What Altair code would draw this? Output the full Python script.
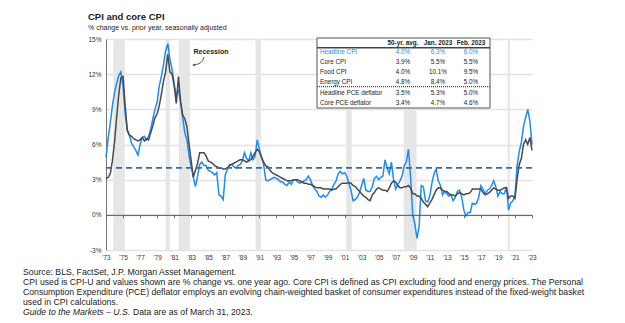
import altair as alt
import pandas as pd

# ---------------- data ----------------
start_year = 1973
step = 0.25  # quarterly observations (Jan, Apr, Jul, Oct)

headline_cpi = [
    4.9, 6.5, 7.8, 9.3,      # 1973
    10.4, 11.2, 11.9, 12.2,  # 1974
    11.0, 8.6, 7.2, 6.8,     # 1975
    6.1, 5.8, 5.5, 5.1,      # 1976
    6.0, 6.6, 6.7, 6.4,      # 1977
    6.7, 7.3, 8.2, 9.0,      # 1978
    9.6, 11.0, 11.8, 12.8,   # 1979
    14.0, 14.6, 13.3, 12.4,  # 1980
    11.2, 10.1, 10.7, 9.6,   # 1981
    8.3, 7.0, 6.4, 5.0,      # 1982
    4.1, 3.2, 2.4, 3.3,      # 1983
    4.3, 4.5, 4.2, 4.2,      # 1984
    3.8, 3.7, 3.6, 3.4,      # 1985
    3.6, 1.7, 1.6, 1.3,      # 1986
    3.4, 3.9, 4.3, 4.3,      # 1987
    4.1, 4.0, 4.2, 4.3,      # 1988
    4.6, 5.3, 4.8, 4.6,      # 1989
    5.3, 4.7, 5.0, 6.4,      # 1990
    5.6, 4.9, 4.3, 3.0,      # 1991
    2.9, 3.0, 3.1, 3.2,      # 1992
    3.1, 3.0, 2.8, 2.8,      # 1993
    2.6, 2.5, 2.8, 2.6,      # 1994
    3.0, 3.0, 2.8, 2.7,      # 1995
    2.8, 2.9, 3.0, 3.3,      # 1996
    3.0, 2.5, 2.2, 2.0,      # 1997
    1.6, 1.5, 1.7, 1.5,      # 1998
    1.7, 2.0, 2.2, 2.6,      # 1999
    2.9, 3.5, 3.7, 3.5,      # 2000
    3.6, 3.3, 2.7, 2.1,      # 2001
    1.2, 1.3, 1.5, 1.9,      # 2002
    2.5, 3.1, 2.1, 2.0,      # 2003
    2.0, 2.4, 3.1, 3.3,      # 2004
    3.0, 3.2, 3.3, 4.7,      # 2005
    4.0, 3.5, 4.5, 3.0,      # 2006
    2.2, 2.6, 2.9, 3.3,      # 2007
    4.2, 4.5, 5.6, 3.2,      # 2008
    0.0, -0.8, -2.0, -1.0,   # 2009
    2.5, 2.4, 1.2, 1.1,      # 2010
    1.6, 2.7, 3.5, 3.9,      # 2011
    2.9, 2.5, 1.7, 2.0,      # 2012
    1.8, 1.6, 1.7, 1.2,      # 2013
    1.5, 2.0, 2.1, 1.5,      # 2014
    0.4, -0.1, 0.2, 0.2,     # 2015
    1.0, 0.9, 1.0, 1.5,      # 2016
    2.5, 2.2, 1.8, 2.1,      # 2017
    2.2, 2.5, 2.9, 2.4,      # 2018
    1.6, 2.0, 1.8, 1.8,      # 2019
    2.4, 0.4, 1.0, 1.2,      # 2020
    1.6, 4.2, 5.4, 6.2,      # 2021
    7.5, 8.3, 9.0, 8.0,      # 2022
    6.0,                     # 2023
]

core_cpi = [
    3.1, 3.2, 3.5, 4.6,      # 1973
    6.2, 8.3, 10.3, 11.7,    # 1974
    11.8, 9.3, 7.2, 6.8,     # 1975
    6.7, 6.5, 6.4, 6.3,      # 1976
    6.4, 6.6, 6.3, 6.5,      # 1977
    6.4, 7.0, 7.6, 8.3,      # 1978
    8.6, 9.3, 10.3, 11.4,    # 1979
    12.2, 13.7, 12.2, 12.0,  # 1980
    11.0, 9.5, 11.8, 9.7,    # 1981
    8.5, 8.2, 7.5, 6.0,      # 1982
    4.6, 3.2, 3.8, 4.4,      # 1983
    5.3, 5.3, 5.3, 5.0,      # 1984
    4.6, 4.5, 4.4, 4.2,      # 1985
    4.1, 4.0, 4.0, 3.9,      # 1986
    3.9, 4.0, 4.2, 4.3,      # 1987
    4.4, 4.5, 4.6, 4.7,      # 1988
    4.7, 4.6, 4.5, 4.6,      # 1989
    4.7, 5.0, 5.3, 5.6,      # 1990
    5.4, 4.9, 4.5, 4.2,      # 1991
    4.1, 3.8, 3.6, 3.5,      # 1992
    3.4, 3.3, 3.2, 3.1,      # 1993
    3.0, 2.9, 2.9, 2.9,      # 1994
    3.0, 3.0, 3.0, 2.9,      # 1995
    2.8, 2.7, 2.7, 2.6,      # 1996
    2.6, 2.5, 2.4, 2.3,      # 1997
    2.3, 2.3, 2.2, 2.2,      # 1998
    2.2, 2.2, 2.1, 2.2,      # 1999
    2.2, 2.4, 2.6, 2.7,      # 2000
    2.7, 2.7, 2.75, 2.7,     # 2001
    2.5, 2.4, 2.2, 2.0,      # 2002
    1.8, 1.6, 1.5, 1.3,      # 2003
    1.2, 1.7, 1.9, 2.2,      # 2004
    2.3, 2.2, 2.1, 2.1,      # 2005
    2.0, 2.3, 2.7, 2.9,      # 2006
    2.8, 2.5, 2.3, 2.3,      # 2007
    2.4, 2.4, 2.5, 2.3,      # 2008
    1.8, 1.8, 1.6, 1.6,      # 2009
    1.4, 1.1, 0.9, 0.7,      # 2010
    1.0, 1.3, 1.7, 2.1,      # 2011
    2.3, 2.3, 2.1, 2.0,      # 2012
    2.0, 1.8, 1.7, 1.7,      # 2013
    1.6, 1.8, 1.9, 1.8,      # 2014
    1.7, 1.8, 1.8, 1.9,      # 2015
    2.2, 2.2, 2.2, 2.2,      # 2016
    2.2, 1.9, 1.7, 1.8,      # 2017
    1.9, 2.1, 2.3, 2.2,      # 2018
    2.1, 2.1, 2.2, 2.3,      # 2019
    2.3, 1.4, 1.6, 1.6,      # 2020
    1.4, 3.0, 4.3, 4.8,      # 2021
    6.0, 6.4, 6.0, 6.6,      # 2022
    5.5,                     # 2023
]

recession_start = [1973.85, 1980.0, 1981.55, 1990.55, 2001.2, 2007.95, 2020.15]
recession_end = [1975.2, 1980.5, 1982.85, 1991.2, 2001.85, 2009.45, 2020.4]

avg_50yr = 4.0

y_ticks = [-3, 0, 3, 6, 9, 12, 15]
x_ticks = list(range(1973, 2024, 2))

table_header = ["", "50-yr. avg.", "Jan. 2023", "Feb. 2023"]
table_labels = ["Headline CPI", "Core CPI", "Food CPI", "Energy CPI",
                "Headline PCE deflator", "Core PCE deflator"]
table_avg = ["4.0%", "3.9%", "4.0%", "4.8%", "3.5%", "3.4%"]
table_jan = ["6.3%", "5.5%", "10.1%", "8.4%", "5.3%", "4.7%"]
table_feb = ["6.0%", "5.5%", "9.5%", "5.0%", "5.0%", "4.6%"]

title_text = "CPI and core CPI"
subtitle_text = "% change vs. prior year, seasonally adjusted"
foot_lines = [
    "Source: BLS, FactSet, J.P. Morgan Asset Management.",
    "CPI used is CPI-U and values shown are % change vs. one year ago. Core CPI is defined as CPI excluding food and energy prices. The Personal",
    "Consumption Expenditure (PCE) deflator employs an evolving chain-weighted basket of consumer expenditures instead of the fixed-weight basket",
    "used in CPI calculations.",
]
foot_italic = "Guide to the Markets – U.S."
foot_last = "Data are as of March 31, 2023."

# ---------------- styling ----------------
W, H = 426, 211
BLUE = "#1a8cff"
GRAY = "#4a4a4a"
FONT = "Liberation Sans"
FOOT_SIZE = 8.7
Y_MIN, Y_MAX = -3.0, 15.0
ZERO_OFFSET = -H * (0.0 - Y_MIN) / (Y_MAX - Y_MIN)  # lift a second x axis onto the 0% line

t_vals = [float(start_year + i * step) for i in range(len(headline_cpi))]
df_head = pd.DataFrame({"t": t_vals, "v": [float(v) for v in headline_cpi]})
df_core = pd.DataFrame({"t": t_vals, "v": [float(v) for v in core_cpi]})
df_rec = pd.DataFrame({"s": recession_start, "e": recession_end})

xs = alt.Scale(domain=[1973.0, 2023.0], nice=False, zero=False)
ys = alt.Scale(domain=[Y_MIN, Y_MAX], nice=False, zero=False)

x_axis = alt.Axis(
    values=x_ticks, tickCount=200, labelExpr="\"'\" + slice(toString(datum.value), 2)",
    grid=False, ticks=False, domain=False, labelPadding=4,
    labelOverlap=False, labelBound=False, labelFlush=False,
    labelFontSize=6.5, labelColor="#333", labelFont=FONT, title=None)
y_axis = alt.Axis(
    values=y_ticks, tickCount=200, labelExpr="datum.value + '%'", ticks=False,
    grid=True, gridColor="#e2e2e2", gridWidth=1.4,
    domain=True, domainColor="#777", domainWidth=1, labelPadding=5,
    labelOverlap=False, labelBound=False, labelFlush=False,
    labelFontSize=6.5, labelColor="#333", labelFont=FONT, title=None)
zero_axis = alt.Axis(
    values=x_ticks, tickCount=200, orient="bottom", offset=ZERO_OFFSET,
    labels=False, grid=False, ticks=True, tickSize=3, tickColor="#555", tickWidth=0.8,
    domain=True, domainColor="#555", domainWidth=1, title=None, zindex=1)

rec = alt.Chart(df_rec).mark_rect(color="#e6e6e6").encode(
    x=alt.X("s:Q", scale=xs, axis=None), x2="e:Q",
    y=alt.value(0), y2=alt.value(H))

line_head = alt.Chart(df_head).mark_line(color=BLUE, strokeWidth=1.5).encode(
    x=alt.X("t:Q", scale=xs, axis=x_axis),
    y=alt.Y("v:Q", scale=ys, axis=y_axis))
line_core = alt.Chart(df_core).mark_line(color=GRAY, strokeWidth=1.5).encode(
    x=alt.X("t:Q", scale=xs, axis=zero_axis),
    y=alt.Y("v:Q", scale=ys, axis=None))

avg_rule = alt.Chart(pd.DataFrame({"y": [avg_50yr]})).mark_rule(
    color="#3a69a3", strokeWidth=1.8, strokeDash=[6, 4]).encode(
    y=alt.Y("y:Q", axis=None), x=alt.value(0), x2=alt.value(W))

# ---------- table (pixel layout relative to plot origin) ----------
TX0, TX1, TY0, TY1 = 211, 384, -1, 69
col_x = [214.0, 297.0, 332.0, 365.0]
row_y = [3.8, 12.8, 22.8, 33.0, 43.0, 53.7, 63.7]

cells = []
for j, h in enumerate(table_header):
    if h:
        cells.append({"px": col_x[j], "py": row_y[0], "txt": h, "kind": "head", "al": "center"})
for i, lab in enumerate(table_labels):
    kind = "blue" if i == 0 else "body"
    cells.append({"px": col_x[0], "py": row_y[i + 1], "txt": lab, "kind": kind, "al": "left"})
    for j, col in enumerate([table_avg, table_jan, table_feb]):
        cells.append({"px": col_x[j + 1], "py": row_y[i + 1], "txt": col[i], "kind": kind, "al": "center"})
df_cells = pd.DataFrame(cells)

one = pd.DataFrame({"a": ["x"]})
tbox = alt.Chart(one).mark_rect(
    fill="white", stroke="#555", strokeWidth=1).encode(
    x=alt.value(TX0), x2=alt.value(TX1), y=alt.value(TY0), y2=alt.value(TY1))
thead = alt.Chart(one).mark_rule(color="#444", strokeWidth=1.6).encode(
    x=alt.value(TX0), x2=alt.value(TX1), y=alt.value(8.8))
tdot = alt.Chart(one).mark_rule(color="#444", strokeWidth=1.2, strokeDash=[1, 1]).encode(
    x=alt.value(TX0), x2=alt.value(TX1), y=alt.value(47.6))

def cell_layer(kind, align, color, weight):
    d = df_cells[(df_cells.kind == kind) & (df_cells.al == align)]
    return alt.Chart(d).mark_text(
        align=align, baseline="middle", fontSize=6.3, font=FONT,
        color=color, fontWeight=weight).encode(
        x=alt.X("px:Q", scale=None, axis=None), y=alt.Y("py:Q", scale=None, axis=None), text="txt:N")

tcells = [
    cell_layer("head", "center", "#222", "bold"),
    cell_layer("body", "left", "#222", "normal"),
    cell_layer("body", "center", "#222", "normal"),
    cell_layer("blue", "left", BLUE, "normal"),
    cell_layer("blue", "center", BLUE, "normal"),
]

# ---------- titles / notes ----------
def text_at(txt, x, y, size, weight="normal", style="normal", color="#222", align="left"):
    return alt.Chart(pd.DataFrame({"txt": [txt]})).mark_text(
        align=align, baseline="middle", fontSize=size, font=FONT,
        fontWeight=weight, fontStyle=style, color=color).encode(
        x=alt.value(x), y=alt.value(y), text="txt:N")

notes = [
    text_at(title_text, -18, -22, 9.5, weight="bold"),
    text_at(subtitle_text, -18, -11.5, 7),
    text_at("Recession", 105, 12.5, 7, weight="bold", align="center"),
]
for k, line in enumerate(foot_lines):
    notes.append(text_at(line, -83, 233 + 10 * k, FOOT_SIZE))
notes.append(text_at(foot_italic, -83, 273, FOOT_SIZE, style="italic"))
notes.append(text_at(foot_last, 27, 273, FOOT_SIZE))

arrow = alt.Chart(pd.DataFrame({"px": [98.0, 97.0, 93.0, 88.0], "py": [18.0, 22.0, 25.0, 26.0],
                                "o": [0, 1, 2, 3]})).mark_line(
    color="#222", strokeWidth=0.8, interpolate="basis").encode(
    x=alt.X("px:Q", scale=None, axis=None), y=alt.Y("py:Q", scale=None, axis=None), order="o:Q")
arrow_head = alt.Chart(pd.DataFrame({"px": [87.5], "py": [26.0]})).mark_point(
    shape="triangle-left", size=10, filled=True, color="#222").encode(
    x=alt.X("px:Q", scale=None, axis=None), y=alt.Y("py:Q", scale=None, axis=None))

chart = alt.layer(
    rec, line_head, line_core, avg_rule,
    tbox, thead, tdot, *tcells, *notes, arrow, arrow_head,
).resolve_axis(x="independent", y="independent").properties(
    width=W, height=H,
    autosize=alt.AutoSizeParams(type="none"),
    padding={"left": 106, "top": 39, "right": 93, "bottom": 73},
    background="white",
).configure_view(stroke=None).configure_axis(
    labelOverlap=False, labelBound=False, labelFlush=False)

chart.save("out.html", embed_options={"renderer": "svg", "actions": False})
